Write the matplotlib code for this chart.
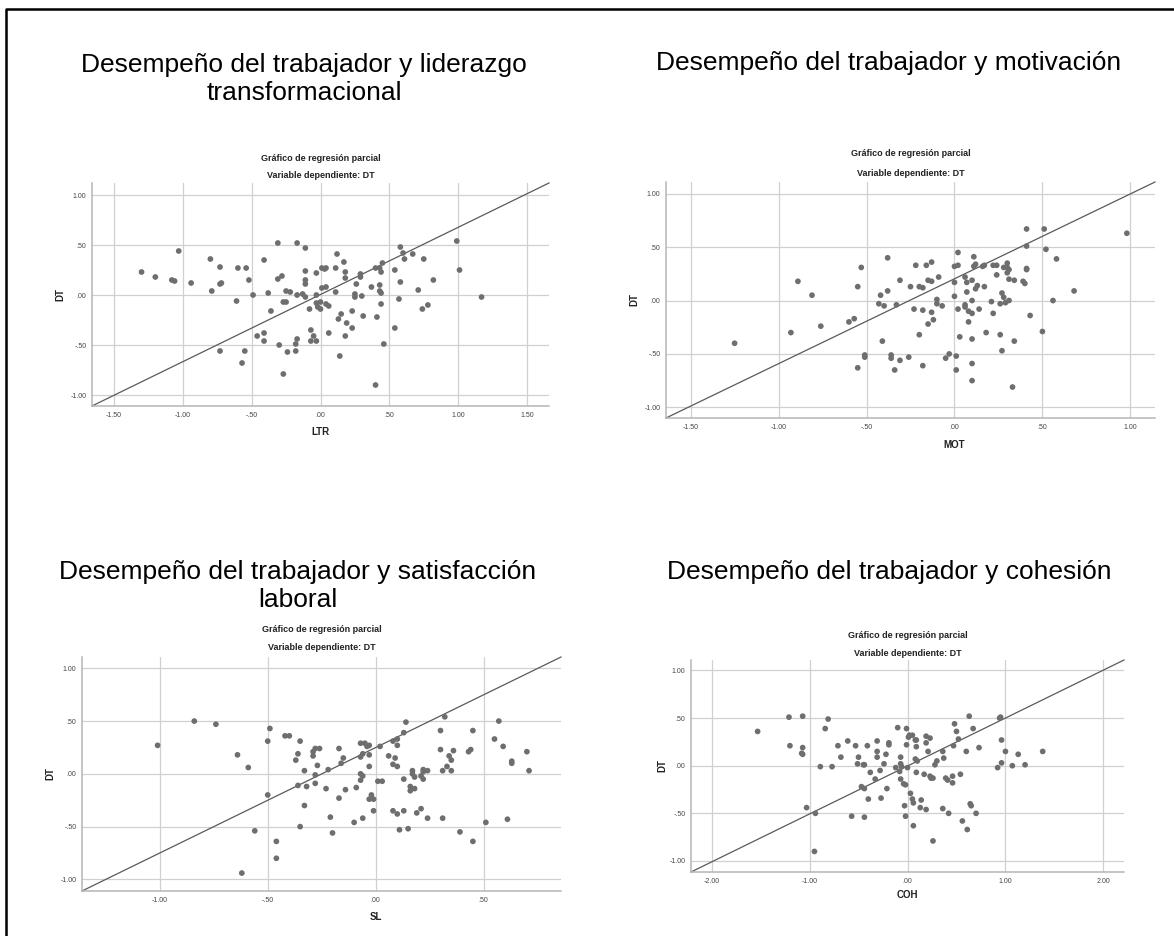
import matplotlib
matplotlib.use("Agg")
import matplotlib.pyplot as plt
from matplotlib.ticker import FuncFormatter
from matplotlib.lines import Line2D

plt.rcParams['font.family'] = ['Liberation Sans', 'DejaVu Sans']

W, H = 1174, 936

# ---- data ----
# LTR panel
ltr = [-1.30, -1.20, -1.08, -1.06, -1.03, -0.94, -0.80, -0.79, -0.73, -0.73,
       -0.72, -0.73, -0.61, -0.60, -0.57, -0.55, -0.54, -0.52, -0.49, -0.46,
       -0.41, -0.41, -0.41, -0.38, -0.36, -0.31, -0.31, -0.28, -0.30, -0.27,
       -0.25, -0.25, -0.22, -0.27, -0.24, -0.17, -0.17, -0.17, -0.18, -0.18,
       -0.13, -0.11, -0.11, -0.11, -0.11, -0.11, -0.08, -0.07, -0.07, -0.05,
       -0.03, -0.03, -0.03, -0.03, -0.02, 0.00, 0.00, 0.01, 0.01, 0.03,
       0.04, 0.04, 0.04, 0.06, 0.06, 0.11, 0.11, 0.12, 0.13, 0.14,
       0.15, 0.17, 0.18, 0.18, 0.18, 0.19, 0.23, 0.23, 0.26, 0.25,
       0.25, 0.29, 0.29, 0.30, 0.31, 0.37, 0.40, 0.40, 0.41, 0.43,
       0.43, 0.43, 0.44, 0.44, 0.44, 0.45, 0.46, 0.54, 0.54, 0.57,
       0.58, 0.58, 0.60, 0.61, 0.67, 0.71, 0.74, 0.75, 0.78, 0.82,
       0.99, 1.01, 1.17]
dt_ltr = [0.23, 0.18, 0.15, 0.14, 0.44, 0.12, 0.36, 0.04, 0.28, 0.11,
          0.12, -0.56, -0.06, 0.27, -0.68, -0.56, 0.27, 0.15, 0.00, -0.41,
          -0.38, 0.35, -0.46, 0.02, -0.16, 0.52, 0.16, 0.19, -0.50, -0.07,
          -0.07, 0.04, 0.03, -0.79, -0.57, 0.52, 0.00, -0.44, -0.49, -0.56,
          0.01, 0.24, 0.15, 0.11, 0.47, -0.02, -0.14, -0.35, -0.46, -0.41,
          -0.46, 0.00, 0.22, -0.08, -0.12, -0.14, -0.07, 0.07, 0.27, 0.26,
          0.27, 0.08, -0.09, -0.11, -0.38, 0.03, 0.27, 0.41, -0.24, -0.61,
          -0.19, 0.33, 0.23, 0.17, -0.41, -0.28, -0.16, -0.33, 0.11, 0.01,
          -0.02, 0.21, 0.18, -0.01, -0.21, 0.08, 0.27, -0.90, -0.22, 0.27,
          0.10, 0.04, 0.02, 0.23, -0.09, 0.32, -0.49, 0.25, -0.33, -0.04,
          0.48, 0.13, 0.42, 0.36, 0.41, 0.05, -0.14, 0.36, -0.10, 0.15,
          0.54, 0.25, -0.02]

# MOT panel
mot = [-1.25, -0.93, -0.89, -0.81, -0.76, -0.60, -0.57, -0.55, -0.55, -0.53,
       -0.51, -0.51, -0.43, -0.42, -0.41, -0.40, -0.38, -0.38, -0.36, -0.36,
       -0.34, -0.33, -0.31, -0.31, -0.26, -0.25, -0.23, -0.22, -0.20, -0.20,
       -0.18, -0.18, -0.18, -0.16, -0.15, -0.15, -0.13, -0.13, -0.13, -0.12,
       -0.10, -0.10, -0.09, -0.07, -0.05, -0.03, 0.00, 0.00, 0.00, 0.01,
       0.01, 0.02, 0.02, 0.02, 0.03, 0.06, 0.06, 0.06, 0.07, 0.07,
       0.08, 0.08, 0.10, 0.10, 0.10, 0.10, 0.10, 0.10, 0.11, 0.11,
       0.12, 0.12, 0.13, 0.14, 0.16, 0.17, 0.17, 0.18, 0.21, 0.22,
       0.22, 0.24, 0.24, 0.26, 0.26, 0.27, 0.27, 0.28, 0.28, 0.29,
       0.30, 0.30, 0.30, 0.31, 0.31, 0.31, 0.34, 0.33, 0.34, 0.39,
       0.40, 0.41, 0.41, 0.41, 0.41, 0.43, 0.50, 0.51, 0.52, 0.56,
       0.58, 0.68, 0.98]
dt_mot = [-0.40, -0.30, 0.18, 0.05, -0.24, -0.20, -0.17, -0.63, 0.13, 0.31,
          -0.51, -0.53, -0.03, 0.05, -0.38, -0.05, 0.40, 0.09, -0.51, -0.54,
          -0.65, -0.04, 0.19, -0.56, -0.53, 0.13, -0.08, 0.33, -0.32, 0.13,
          0.12, -0.61, -0.09, 0.33, -0.22, 0.19, 0.36, 0.18, -0.11, -0.18,
          0.01, -0.03, 0.22, -0.05, -0.54, -0.50, 0.04, 0.17, 0.32, -0.52,
          -0.65, -0.08, 0.33, 0.45, -0.34, -0.04, -0.06, 0.22, 0.17, 0.08,
          -0.20, -0.10, 0.19, 0.00, -0.12, -0.36, -0.59, -0.75, 0.41, 0.32,
          0.34, 0.11, 0.14, -0.08, 0.32, 0.33, 0.13, -0.30, -0.01, 0.33,
          -0.12, 0.33, 0.24, -0.32, -0.03, 0.07, -0.47, 0.31, 0.03, -0.02,
          0.26, 0.35, 0.31, 0.20, 0.29, 0.00, 0.19, -0.81, -0.38, 0.18,
          0.16, 0.51, 0.67, 0.30, 0.29, -0.14, -0.29, 0.67, 0.48, 0.00,
          0.39, 0.09, 0.63]

# SL panel
sl = [-1.01, -0.84, -0.74, -0.64, -0.62, -0.59, -0.56, -0.50, -0.50, -0.49,
      -0.46, -0.46, -0.42, -0.40, -0.37, -0.36, -0.36, -0.35, -0.35, -0.33,
      -0.33, -0.32, -0.29, -0.29, -0.28, -0.26, -0.28, -0.28, -0.27, -0.23,
      -0.22, -0.21, -0.20, -0.17, -0.17, -0.16, -0.15, -0.14, -0.10, -0.09,
      -0.07, -0.07, -0.07, -0.07, -0.06, -0.06, -0.06, -0.05, -0.04, -0.03,
      -0.03, -0.03, -0.02, -0.03, -0.01, -0.01, 0.01, 0.03, 0.02, 0.06,
      0.08, 0.08, 0.08, 0.10, 0.09, 0.10, 0.10, 0.10, 0.11, 0.13,
      0.13, 0.13, 0.14, 0.15, 0.16, 0.16, 0.17, 0.17, 0.18, 0.18,
      0.19, 0.21, 0.21, 0.22, 0.22, 0.22, 0.24, 0.24, 0.30, 0.30,
      0.31, 0.31, 0.32, 0.33, 0.34, 0.35, 0.35, 0.36, 0.39, 0.43,
      0.44, 0.45, 0.45, 0.51, 0.55, 0.57, 0.59, 0.61, 0.63, 0.63,
      0.70, 0.71]
dt_sl = [0.27, 0.50, 0.47, 0.18, -0.94, 0.06, -0.54, 0.31, -0.20, 0.43,
         -0.64, -0.80, 0.36, 0.36, 0.13, -0.11, 0.19, 0.31, -0.50, 0.03,
         -0.30, -0.12, 0.17, 0.21, 0.24, 0.24, -0.01, -0.09, 0.08, -0.14,
         0.04, -0.41, -0.56, 0.24, -0.23, 0.10, 0.15, -0.15, -0.46, -0.13,
         0.29, 0.00, -0.06, 0.16, -0.02, -0.42, 0.19, 0.29, 0.26, 0.27,
         0.07, 0.18, -0.20, -0.24, -0.24, -0.35, -0.07, -0.07, 0.26, 0.17,
         0.09, -0.35, 0.31, 0.33, 0.15, 0.27, 0.07, -0.38, -0.53, -0.35,
         -0.05, 0.39, 0.49, -0.52, -0.12, -0.16, 0.03, 0.00, -0.03, -0.14,
         -0.37, -0.33, -0.02, 0.04, 0.02, -0.05, -0.42, 0.03, 0.41, 0.23,
         -0.42, 0.03, 0.54, 0.07, 0.17, 0.13, 0.03, 0.22, -0.55, 0.21,
         0.23, 0.41, -0.64, -0.46, 0.33, 0.50, 0.26, -0.43, 0.12, 0.10,
         0.21, 0.03]

# COH panel
coh = [-1.53, -1.21, -1.20, -1.07, -1.07, -1.08, -1.07, -1.03, -0.95, -0.94,
       -0.89, -0.84, -0.81, -0.77, -0.71, -0.68, -0.61, -0.57, -0.53, -0.51,
       -0.50, -0.47, -0.45, -0.44, -0.44, -0.44, -0.41, -0.40, -0.38, -0.33,
       -0.31, -0.31, -0.31, -0.28, -0.27, -0.24, -0.22, -0.21, -0.19, -0.19,
       -0.12, -0.10, -0.08, -0.07, -0.07, -0.07, -0.06, -0.04, -0.02, -0.03,
       -0.02, -0.01, -0.01, 0.00, 0.01, 0.02, 0.05, 0.03, 0.05, 0.06,
       0.06, 0.08, 0.09, 0.09, 0.08, 0.10, 0.09, 0.13, 0.14, 0.17,
       0.19, 0.19, 0.19, 0.21, 0.23, 0.23, 0.24, 0.26, 0.26, 0.28,
       0.30, 0.36, 0.36, 0.37, 0.39, 0.41, 0.42, 0.46, 0.46, 0.47,
       0.48, 0.50, 0.52, 0.54, 0.56, 0.60, 0.61, 0.63, 0.64, 0.65,
       0.67, 0.70, 0.73, 0.92, 0.94, 0.95, 0.96, 0.96, 1.00, 1.07,
       1.13, 1.20, 1.38]
dt_coh = [0.36, 0.51, 0.21, 0.52, 0.19, 0.13, 0.12, -0.44, -0.90, -0.50,
          -0.01, 0.39, 0.49, -0.01, 0.21, 0.09, 0.26, -0.53, 0.21, 0.02,
          0.09, -0.22, 0.01, 0.01, -0.24, -0.54, 0.21, -0.35, -0.07, -0.14,
          0.26, 0.15, 0.09, -0.05, -0.34, 0.02, 0.12, -0.24, 0.24, 0.22,
          -0.02, 0.40, -0.06, 0.09, -0.14, 0.02, -0.01, -0.19, -0.20, -0.42,
          -0.53, 0.39, 0.22, -0.02, 0.30, 0.32, 0.32, -0.29, -0.35, -0.39,
          -0.63, 0.27, 0.27, 0.20, 0.07, 0.05, -0.07, -0.44, -0.36, -0.09,
          0.31, 0.24, -0.46, 0.15, 0.29, -0.11, -0.13, -0.13, -0.79, 0.01,
          0.05, -0.45, 0.15, 0.08, -0.13, -0.15, -0.50, -0.18, -0.11, 0.21,
          0.44, 0.36, 0.28, -0.09, -0.58, 0.15, -0.67, 0.52, -0.40, -0.42,
          0.39, -0.50, 0.19, -0.02, 0.50, 0.51, 0.03, 0.27, 0.15, 0.00,
          0.12, 0.01, 0.15]

titles = ["Desempeño del trabajador y liderazgo\ntransformacional",
          "Desempeño del trabajador y motivación",
          "Desempeño del trabajador y satisfacción\nlaboral",
          "Desempeño del trabajador y cohesión"]
xlabels = ["LTR", "MOT", "SL", "COH"]
xticks = [[-1.5, -1.0, -0.5, 0.0, 0.5, 1.0, 1.5],
          [-1.5, -1.0, -0.5, 0.0, 0.5, 1.0],
          [-1.0, -0.5, 0.0, 0.5],
          [-2.0, -1.0, 0.0, 1.0, 2.0]]
yticks = [-1.0, -0.5, 0.0, 0.5, 1.0]

# pixel layout: axes box (left, top, right, bottom), x limits
boxes = [(92, 183, 549, 406), (666, 182, 1155, 418),
         (82, 657, 561, 891), (691, 660, 1124, 872)]
xlims = [(-1.66, 1.66), (-1.64, 1.14), (-1.36, 0.858), (-2.21, 2.21)]
ylims = [(-1.11, 1.12), (-1.10, 1.11), (-1.11, 1.107), (-1.116, 1.11)]
# big title (center x, center y), small titles y, tick label y, xlabel y, ylabel x
big_pos = [(304, 79), (889, 63), (298, 586), (889, 572)]
small_y = [(158, 176), (154, 173), (630, 648), (636, 653)]
xlab_y = [432, 445, 917, 895]
ylab_x = [60, 634, 50, 662]

xs = [ltr, mot, sl, coh]
ys = [dt_ltr, dt_mot, dt_sl, dt_coh]


def fx(px):
    return px / W


def fy(py):
    return 1 - py / H


def spss_fmt(v, pos):
    s = f"{v:.2f}"
    if s.startswith("0."):
        s = s[1:]
    elif s.startswith("-0."):
        s = "-" + s[2:]
    return s


fig = plt.figure(figsize=(W / 100, H / 100), dpi=100)

for i in range(4):
    l, t, r, b = boxes[i]
    ax = fig.add_axes([fx(l), fy(b), (r - l) / W, (b - t) / H])
    ax.set_xlim(xlims[i])
    ax.set_ylim(ylims[i])
    ax.set_xticks(xticks[i])
    ax.set_yticks(yticks)
    ax.xaxis.set_major_formatter(FuncFormatter(spss_fmt))
    ax.yaxis.set_major_formatter(FuncFormatter(spss_fmt))
    ax.grid(True, color='#d0d0d0', lw=0.9)
    ax.set_axisbelow(True)
    ax.tick_params(length=0, labelsize=5, colors='#444444', pad=4)
    for side in ['top', 'right']:
        ax.spines[side].set_visible(False)
    for side in ['left', 'bottom']:
        ax.spines[side].set_color('#b5b5b5')
        ax.spines[side].set_linewidth(1.1)
    # diagonal reference line across the plot area
    ax.plot([0, 1], [0, 1], transform=ax.transAxes, color='#5a5a5a', lw=0.9,
            clip_on=False)
    ax.scatter(xs[i], ys[i], s=17, color='#6e6e6e', edgecolors='none', zorder=3)

    cx = (l + r) / 2
    fig.text(fx(big_pos[i][0]), fy(big_pos[i][1]), titles[i], ha='center',
             va='center', fontsize=19, linespacing=1.2, color='black')
    fig.text(fx(cx), fy(small_y[i][0]), "Gráfico de regresión parcial",
             ha='center', va='center', fontsize=6.5, fontweight='bold',
             color='#222222')
    fig.text(fx(cx), fy(small_y[i][1]), "Variable dependiente: DT",
             ha='center', va='center', fontsize=6.5, fontweight='bold',
             color='#222222')
    zero_x = l + (0 - xlims[i][0]) / (xlims[i][1] - xlims[i][0]) * (r - l)
    fig.text(fx(zero_x), fy(xlab_y[i]), xlabels[i], ha='center', va='center',
             fontsize=7, fontweight='bold', color='#222222')
    fig.text(fx(ylab_x[i]), fy((t + b) / 2), "DT", ha='center', va='center',
             rotation=90, fontsize=7, fontweight='bold', color='#222222')

# page border (left and top edges)
fig.add_artist(Line2D([fx(6), fx(6), 1.0], [0.0, fy(9), fy(9)],
                      color='black', lw=1.8, transform=fig.transFigure))

fig.savefig("out.png", dpi=100)
